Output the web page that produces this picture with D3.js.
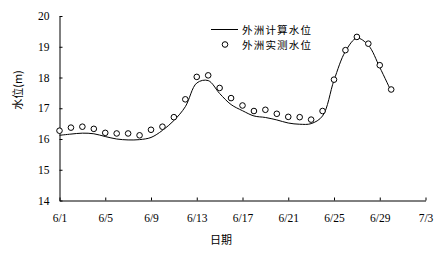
<!DOCTYPE html>
<html>
<head>
<meta charset="utf-8">
<script src="https://cdn.jsdelivr.net/npm/d3@7"></script>
<style>
  html, body { margin: 0; padding: 0; background: #fff; }
  svg { display: block; }
</style>
</head>
<body>
<svg id="chart" width="446" height="265"></svg>
<script>
// ---- data ----
const dates = ["6/1","6/2","6/3","6/4","6/5","6/6","6/7","6/8","6/9","6/10",
               "6/11","6/12","6/13","6/14","6/15","6/16","6/17","6/18","6/19","6/20",
               "6/21","6/22","6/23","6/24","6/25","6/26","6/27","6/28","6/29","6/30"];
const computed = [16.12,16.16,16.19,16.17,16.08,16.00,15.97,15.98,16.05,16.28,
                  16.60,17.05,17.82,17.90,17.48,17.12,16.92,16.75,16.70,16.62,
                  16.52,16.48,16.50,16.75,17.91,18.85,19.28,19.05,18.33,17.55];
const measured = [16.27,16.37,16.40,16.33,16.20,16.18,16.18,16.12,16.30,16.40,
                  16.71,17.29,18.02,18.07,17.66,17.33,17.09,16.91,16.95,16.82,
                  16.72,16.71,16.63,16.91,17.93,18.89,19.32,19.10,18.40,17.61];
const xTickLabels = ["6/1","6/5","6/9","6/13","6/17","6/21","6/25","6/29","7/3"];
const yTicks = [14,15,16,17,18,19,20];
const seriesNames = ["外洲计算水位","外洲实测水位"];
const xTitle = "日期";
const yTitle = "水位(m)";

// ---- helpers ----
const parse = s => { const [m,d] = s.split("/").map(Number); return new Date(2000, m-1, d); };
const fmt = d => (d.getMonth()+1) + "/" + d.getDate();

const svg = d3.select("#chart");
const x = d3.scaleTime()
  .domain([parse(xTickLabels[0]), parse(xTickLabels[xTickLabels.length-1])])
  .range([59.5, 425.5]);
const y = d3.scaleLinear().domain([14, 20]).range([200.5, 16]);

const serif = "'Liberation Serif','Times New Roman',serif";
const cjk = "'Noto Sans CJK SC','Noto Sans CJK JP',sans-serif";

// axes
const gx = svg.append("g").attr("transform", "translate(0,200.5)")
  .call(d3.axisBottom(x).tickValues(xTickLabels.map(parse)).tickFormat(fmt)
        .tickSizeInner(-3).tickSizeOuter(0).tickPadding(13));
const gy = svg.append("g").attr("transform", "translate(59.5,0)")
  .call(d3.axisLeft(y).tickValues(yTicks).tickFormat(d3.format("d"))
        .tickSizeInner(-3).tickSizeOuter(0).tickPadding(10));
[gx, gy].forEach(g => {
  g.select(".domain").attr("stroke", "#000").attr("stroke-width", 1);
  g.selectAll(".tick line").attr("stroke", "#000");
  g.selectAll(".tick text").attr("fill", "#000")
    .style("font-family", serif).style("font-size", "11.5px");
});

// computed line
const pts = dates.map((d, i) => ({ d: parse(d), c: computed[i], m: measured[i] }));
svg.append("path")
  .datum(pts)
  .attr("fill", "none")
  .attr("stroke", "#000")
  .attr("stroke-width", 1)
  .attr("d", d3.line().x(p => x(p.d)).y(p => y(p.c)).curve(d3.curveCatmullRom.alpha(0.5)));

// measured points
svg.append("g").selectAll("circle")
  .data(pts).join("circle")
  .attr("cx", p => x(p.d)).attr("cy", p => y(p.m)).attr("r", 2.8)
  .attr("fill", "#fff").attr("stroke", "#000").attr("stroke-width", 1);

// titles
svg.append("text").attr("x", 221).attr("y", 244)
  .attr("text-anchor", "middle").attr("fill", "#000")
  .style("font-family", cjk).style("font-size", "11px").text(xTitle);
svg.append("text").attr("transform", "translate(22,90) rotate(-90)")
  .attr("text-anchor", "middle").attr("fill", "#000")
  .style("font-family", cjk).style("font-size", "11px").text(yTitle);

// legend
const lg = svg.append("g");
lg.append("line").attr("x1", 211).attr("x2", 238).attr("y1", 29.5).attr("y2", 29.5)
  .attr("stroke", "#000").attr("stroke-width", 1);
lg.append("circle").attr("cx", 225).attr("cy", 44.5).attr("r", 2.8)
  .attr("fill", "#fff").attr("stroke", "#000");
seriesNames.forEach((n, i) => {
  lg.append("text").attr("x", 242).attr("y", 33.5 + i * 15.5)
    .attr("fill", "#000").style("font-family", cjk).style("font-size", "10.5px")
    .style("letter-spacing", "1.2px").text(n);
});
</script>
</body>
</html>
